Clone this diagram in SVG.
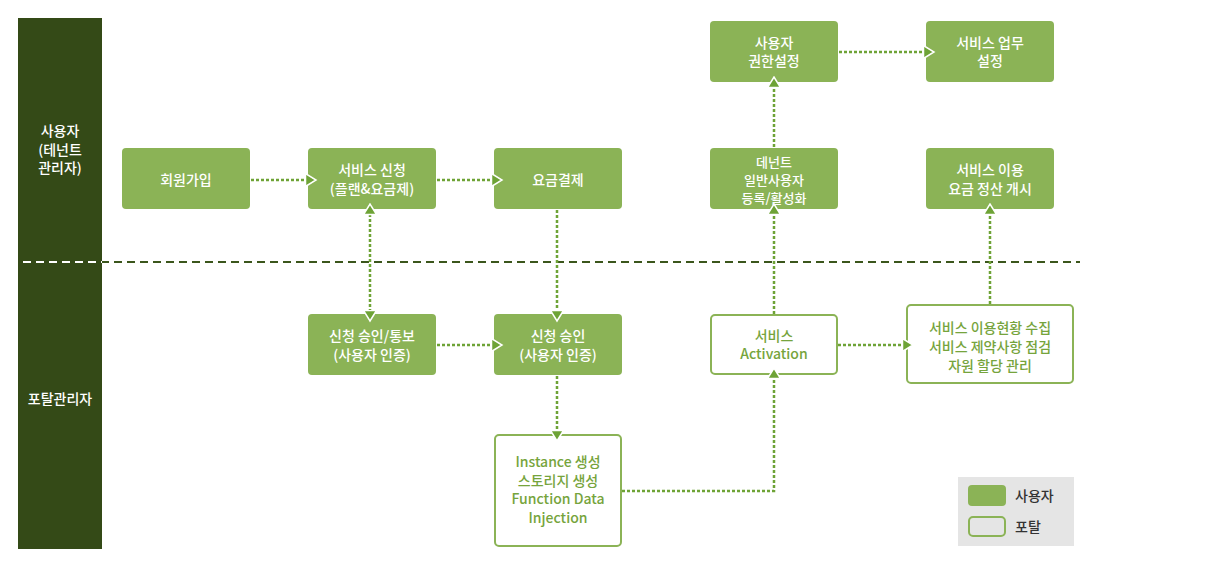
<svg xmlns="http://www.w3.org/2000/svg" width="1205" height="564" viewBox="0 0 1205 564">
<style>
  text { font-family: "Noto Sans CJK KR", "Noto Sans", sans-serif; font-size: 14px; text-anchor: middle; dominant-baseline: central; font-weight: 500; }
  .lane { fill: #344a17; }
  .lanetxt { fill: #ffffff; }
  .user rect { fill: #8bb356; }
  .user text { fill: #ffffff; }
  .portal rect { fill: #ffffff; stroke: #8bb356; stroke-width: 2; }
  .portal text { fill: #76a43c; }
  .conn { fill: none; stroke: #6ea336; stroke-width: 2.5; stroke-dasharray: 3 2; }
  .sep { stroke: #3b561c; stroke-width: 2; stroke-dasharray: 8 5; }
  .sepw { stroke: #ffffff; stroke-width: 2; stroke-dasharray: 8 5; }
  .legtxt { fill: #333333; text-anchor: start; }
  .small { font-size: 13px; }
</style>
<defs>
  <marker id="arr" viewBox="0 0 13 15" refX="11.5" refY="7.5" markerWidth="13" markerHeight="15" markerUnits="userSpaceOnUse" orient="auto">
    <path d="M1,1 L11.5,7.5 L1,14 z" fill="#6ea336" stroke="#ffffff" stroke-width="1.5" stroke-linejoin="miter"/>
  </marker>
  <marker id="arrs" viewBox="0 0 13 15" refX="11.5" refY="7.5" markerWidth="13" markerHeight="15" markerUnits="userSpaceOnUse" orient="auto-start-reverse">
    <path d="M1,1 L11.5,7.5 L1,14 z" fill="#6ea336" stroke="#ffffff" stroke-width="1.5" stroke-linejoin="miter"/>
  </marker>
</defs>

<g id="lanes">
  <rect class="lane" x="18" y="18" width="84" height="531"/>
  <text class="lanetxt" x="60" y="130">사용자</text>
  <text class="lanetxt" x="60" y="149">(테넌트</text>
  <text class="lanetxt" x="60" y="167">관리자)</text>
  <text class="lanetxt" x="60" y="398">포탈관리자</text>
  <line class="sepw" x1="23" y1="262" x2="102" y2="262"/>
  <line class="sep" x1="102" y1="262" x2="1080" y2="262" stroke-dashoffset="1"/>
</g>

<g id="n-join" class="user"><rect x="122" y="148" width="128" height="61" rx="4"/><text x="186" y="179">회원가입</text></g>
<g id="n-apply" class="user"><rect x="308" y="148" width="128" height="61" rx="4"/><text x="372" y="169">서비스 신청</text><text x="372" y="188">(플랜&amp;요금제)</text></g>
<g id="n-pay" class="user"><rect x="494" y="148" width="128" height="61" rx="4"/><text x="558" y="179">요금결제</text></g>
<g id="n-perm" class="user"><rect x="710" y="21" width="128" height="61" rx="4"/><text x="774" y="42">사용자</text><text x="774" y="60">권한설정</text></g>
<g id="n-work" class="user"><rect x="926" y="21" width="128" height="61" rx="4"/><text x="990" y="42">서비스 업무</text><text x="990" y="60">설정</text></g>
<g id="n-reg" class="user"><rect x="710" y="148" width="128" height="61" rx="4"/><text class="small" x="774" y="161">데넌트</text><text class="small" x="774" y="179">일반사용자</text><text class="small" x="774" y="197">등록/활성화</text></g>
<g id="n-bill" class="user"><rect x="926" y="148" width="128" height="61" rx="4"/><text x="990" y="169">서비스 이용</text><text x="990" y="188">요금 정산 개시</text></g>
<g id="n-approve-notify" class="user"><rect x="308" y="314" width="128" height="61" rx="4"/><text x="372" y="335">신청 승인/통보</text><text x="372" y="354">(사용자 인증)</text></g>
<g id="n-approve" class="user"><rect x="494" y="314" width="128" height="61" rx="4"/><text x="558" y="335">신청 승인</text><text x="558" y="354">(사용자 인증)</text></g>
<g id="n-activation" class="portal"><rect x="711" y="315" width="126" height="59" rx="4"/><text x="774" y="335">서비스</text><text x="774" y="353">Activation</text></g>
<g id="n-instance" class="portal"><rect x="495" y="435" width="126" height="111" rx="4"/><text x="558" y="461">Instance 생성</text><text x="558" y="480">스토리지 생성</text><text x="558" y="498">Function Data</text><text x="558" y="517">Injection</text></g>
<g id="n-monitor" class="portal"><rect x="907" y="305" width="166" height="78" rx="4"/><text x="990" y="327">서비스 이용현황 수집</text><text x="990" y="346">서비스 제약사항 점검</text><text x="990" y="365">자원 할당 관리</text></g>

<g id="legend">
  <rect x="958" y="477" width="116" height="69" fill="#e5e5e5"/>
  <rect x="968" y="485" width="38" height="21" rx="4" fill="#8bb356"/>
  <rect x="969" y="517" width="36" height="19" rx="4" fill="#e5e5e5" stroke="#8bb356" stroke-width="2"/>
  <text class="legtxt" x="1015" y="495">사용자</text>
  <text class="legtxt" x="1015" y="526">포탈</text>
</g>

<g id="connectors">
  <path class="conn" d="M251,180 H316" marker-end="url(#arr)"/>
  <path class="conn" d="M437,180 H502" marker-end="url(#arr)"/>
  <path class="conn" d="M370,204 V321" marker-start="url(#arrs)" marker-end="url(#arr)"/>
  <path class="conn" d="M557,210 V321" marker-end="url(#arr)"/>
  <path class="conn" d="M437,345 H502" marker-end="url(#arr)"/>
  <path class="conn" d="M557,376 V441" marker-end="url(#arr)"/>
  <path class="conn" d="M622,491 H774 V368" marker-end="url(#arr)"/>
  <path class="conn" d="M774,314 V204" marker-end="url(#arr)"/>
  <path class="conn" d="M774,147 V77" marker-end="url(#arr)"/>
  <path class="conn" d="M839,52 H934" marker-end="url(#arr)"/>
  <path class="conn" d="M838,345 H913" marker-end="url(#arr)"/>
  <path class="conn" d="M990,304 V204" marker-end="url(#arr)"/>
</g>
</svg>
